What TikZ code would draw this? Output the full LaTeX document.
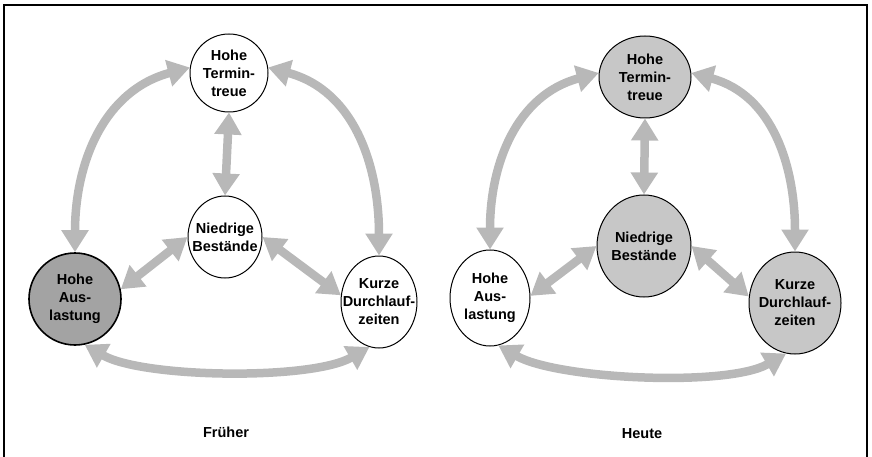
\documentclass[tikz,border=0pt]{standalone}
\usepackage{fontspec}
\setmainfont{Liberation Sans}
\usetikzlibrary{arrows.meta,shapes.geometric}
\begin{document}
\begin{tikzpicture}[x=1pt,y=1pt,
  circ/.style={ellipse,draw=black,line width=1pt,inner sep=0pt},
  plainc/.style={fill=white},
  darkc/.style={fill=black!36,line width=1.6pt},
  lightc/.style={fill=black!22},
  lbl/.style={align=center,inner sep=0pt,font=\fontsize{14.5}{18}\selectfont\bfseries},
  dbl/.style={draw=black!28,line width=8.5pt,{Triangle[width=26pt,length=22pt]}-{Triangle[width=26pt,length=22pt]}},
]
\useasboundingbox (0,0) rectangle (872,-457);
% frame
\draw[line width=1.6pt] (4,-457) -- (4,-5) -- (867,-5) -- (867,-457);

% left panel circles
\node[circ,plainc,minimum width=78pt,minimum height=78pt] (LT) at (229,-73) {};
\node[circ,plainc,minimum width=74pt,minimum height=82pt] (LM) at (225,-237) {};
\node[circ,darkc,minimum width=92pt,minimum height=92pt] (LL) at (75,-299) {};
\node[circ,plainc,minimum width=76pt,minimum height=92pt] (LR) at (379,-302) {};
\node[lbl] (tLT) at (LT) {Hohe\\Termin-\\treue};
\node[lbl] (tLM) at (LM) {Niedrige\\Bestände};
\node[lbl] (tLL) at (LL) {Hohe\\Aus-\\lastung};
\node[lbl] (tLR) at (LR) {Kurze\\Durchlauf-\\zeiten};

% right panel circles
\node[circ,lightc,minimum width=92pt,minimum height=82pt] (RT) at (645,-77) {};
\node[circ,lightc,minimum width=94pt,minimum height=102pt] (RM) at (644,-246) {};
\node[circ,plainc,minimum width=80pt,minimum height=96pt] (RL) at (490,-298) {};
\node[circ,lightc,minimum width=92pt,minimum height=102pt] (RR) at (795,-303) {};
\node[lbl] (tRT) at (RT) {Hohe\\Termin-\\treue};
\node[lbl] (tRM) at (RM) {Niedrige\\Bestände};
\node[lbl] (tRL) at (RL) {Hohe\\Aus-\\lastung};
\node[lbl] (tRR) at (RR) {Kurze\\Durchlauf-\\zeiten};

% left arrows
\draw[dbl] (LT.172) to[out=195,in=90,looseness=1.05] (LL.north);
\draw[dbl] (LT.8) to[out=-15,in=90,looseness=1.05] (LR.north);
\draw[dbl] (LT.south) -- (LM.north);
\draw[dbl] (LM.180) -- (LL.12);
\draw[dbl] (LM.0) -- (LR.170);
\draw[dbl] (LL.-78) to[out=-30,in=-150,looseness=0.6] (LR.-102);

% right arrows
\draw[dbl] (RT.175) to[out=195,in=90,looseness=1.05] (RL.north);
\draw[dbl] (RT.5) to[out=-15,in=90,looseness=1.05] (RR.north);
\draw[dbl] (RT.south) -- (RM.north);
\draw[dbl] (RM.180) -- (RL.3);
\draw[dbl] (RM.0) -- (RR.172);
\draw[dbl] (RL.-80) to[out=-30,in=-150,looseness=0.6] (RR.-100);

% captions
\node[lbl] (cap1) at (226,-432) {Früher};
\node[lbl] (cap2) at (642,-434) {Heute};
\end{tikzpicture}
\end{document}
